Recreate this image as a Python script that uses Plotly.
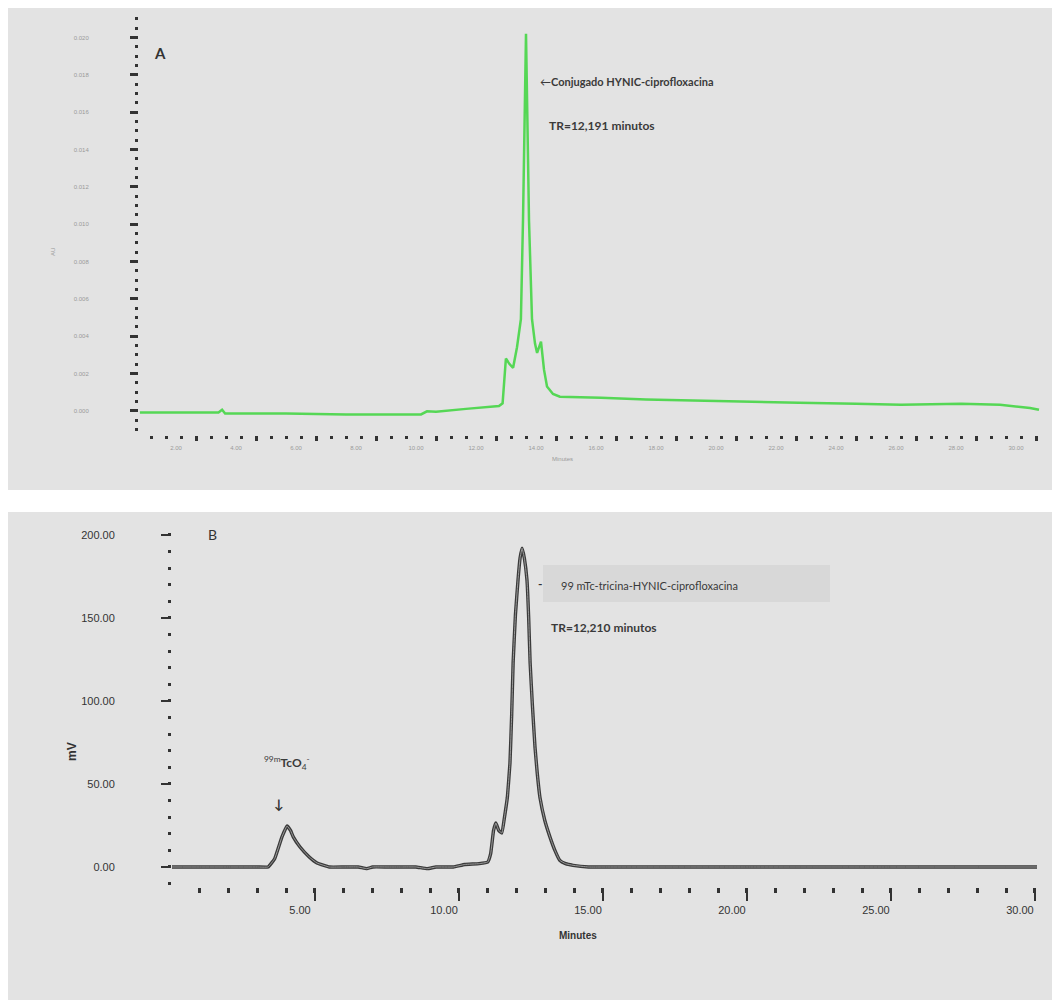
import plotly.graph_objects as go
from plotly.subplots import make_subplots

W, H = 1056, 1000

# ---------------- Data: panel A (UV, AU) ----------------
time_a = [0.13, 1.0, 2.0, 2.75, 2.87, 2.97, 4.0, 5.0, 7.0, 9.5, 9.7, 10.0, 11.0, 11.8,
          12.1, 12.22, 12.33, 12.45, 12.57, 12.7, 12.83, 12.9, 13.0, 13.1, 13.2, 13.3,
          13.37, 13.5, 13.6, 13.7, 13.9, 14.13, 15.5, 17.0, 18.8, 20.5, 22.1, 24.0,
          25.5, 27.5, 28.8, 29.8, 30.1]
au_a = [-0.0001, -0.0001, -0.0001, -0.0001, 0.00005, -0.00015, -0.00015, -0.00015,
        -0.0002, -0.0002, -0.00003, -0.00005, 0.0001, 0.0002,
        0.00025, 0.0004, 0.0028, 0.0025, 0.0023, 0.0034, 0.0049, 0.0102, 0.0202, 0.0102,
        0.0049, 0.0036, 0.0031, 0.0037, 0.0022, 0.0013, 0.0009, 0.00075, 0.0007, 0.0006,
        0.00053, 0.00048, 0.00043, 0.00038, 0.00032, 0.00037, 0.00032, 0.00015, 0.00005]

# ---------------- Data: panel B (radio, mV) ----------------
time_b = [0.0, 1.0, 2.0, 3.0, 3.37, 3.6, 3.85, 4.03, 4.15, 4.25, 4.48, 4.8, 5.07, 5.5,
          6.0, 6.5, 6.8, 7.0, 7.5, 8.0, 8.5, 8.9, 9.2, 9.8, 10.2, 10.7, 11.0, 11.1, 11.2,
          11.28, 11.38, 11.49, 11.58, 11.68, 11.77, 11.83, 11.88, 11.96, 12.05, 12.12,
          12.19, 12.27, 12.36, 12.42, 12.47, 12.55, 12.64, 12.72, 12.81, 12.98, 13.16,
          13.33, 13.5, 13.7, 13.96, 14.5, 15.0, 20.0, 25.0, 30.07]
mv_b = [0, 0, 0, 0, 0, 5, 18, 24.7, 22, 18, 12, 6, 2.4, 0,
        0, 0, -1, 0, 0, 0, 0, -1, 0, 0, 1.5, 2, 3, 8, 22,
        26.5, 22, 20.5, 30, 42, 62.6, 92, 123, 152, 173, 186,
        192, 186, 173, 150, 123, 97, 72, 56, 42, 28, 18,
        10, 4, 2, 1, 0, 0, 0, 0, 0]

# ---------------- Tick labels ----------------
a_xticks = [2, 4, 6, 8, 10, 12, 14, 16, 18, 20, 22, 24, 26, 28, 30]
a_xlabels = ["2.00", "4.00", "6.00", "8.00", "10.00", "12.00", "14.00", "16.00",
             "18.00", "20.00", "22.00", "24.00", "26.00", "28.00", "30.00"]
a_yticks = [0.000, 0.002, 0.004, 0.006, 0.008, 0.010, 0.012, 0.014, 0.016, 0.018, 0.020]
a_ylabels = ["0.000", "0.002", "0.004", "0.006", "0.008", "0.010", "0.012", "0.014",
             "0.016", "0.018", "0.020"]
b_xticks = [5, 10, 15, 20, 25, 30]
b_xlabels = ["5.00", "10.00", "15.00", "20.00", "25.00", "30.00"]
b_yticks = [0, 50, 100, 150, 200]
b_ylabels = ["0.00", "50.00", "100.00", "150.00", "200.00"]


def px(x):
    return x / W


def py(y):
    return 1 - y / H


fig = make_subplots(rows=2, cols=1)

fig.add_trace(go.Scatter(x=time_a, y=au_a, mode="lines",
                         line=dict(color="rgb(85,215,85)", width=2.5),
                         showlegend=False, hoverinfo="skip"), row=1, col=1)
fig.add_trace(go.Scatter(x=time_b, y=mv_b, mode="lines",
                         line=dict(color="#3a3a3a", width=3.4, shape="spline",
                                   smoothing=0.3),
                         showlegend=False, hoverinfo="skip"), row=2, col=1)
fig.add_trace(go.Scatter(x=time_b, y=mv_b, mode="lines",
                         line=dict(color="#9a9a9a", width=1.0, shape="spline",
                                   smoothing=0.3),
                         showlegend=False, hoverinfo="skip"), row=2, col=1)

GREY = "#e3e3e3"
TICKC = "#333333"

common = dict(showgrid=False, zeroline=False, showline=False)

fig.update_xaxes(**common, domain=[px(139), px(1048)], range=[0.1, 30.4],
                 tickmode="array", tickvals=a_xticks, ticktext=a_xlabels,
                 ticks="outside", ticklen=5, tickwidth=3, tickcolor=TICKC,
                 tickfont=dict(family="Liberation Sans", size=6, color="#9a9a9a"),
                 ticklabelshift=-20, ticklabelstandoff=2,
                 minor=dict(tickmode="linear", tick0=0, dtick=0.5, ticks="outside",
                            ticklen=3, tickwidth=3, tickcolor=TICKC),
                 row=1, col=1)
fig.update_yaxes(**common, domain=[py(435), py(15)], range=[-0.0013, 0.0212],
                 tickmode="array", tickvals=a_yticks, ticktext=a_ylabels,
                 ticks="outside", ticklen=8, tickwidth=3, tickcolor=TICKC,
                 tickfont=dict(family="Liberation Sans", size=6, color="#9a9a9a"),
                 ticklabelstandoff=40,
                 minor=dict(tickmode="linear", tick0=0, dtick=0.0005, ticks="outside",
                            ticklen=3, tickwidth=3, tickcolor=TICKC),
                 row=1, col=1)

fig.update_xaxes(**common, domain=[px(172), px(1046.5)], range=[0.035, 30.4],
                 tickmode="array", tickvals=b_xticks, ticktext=b_xlabels,
                 ticks="outside", ticklen=13, tickwidth=2, tickcolor=TICKC,
                 tickfont=dict(family="Liberation Sans", size=11, color="#333333"),
                 ticklabelshift=-15, ticklabelstandoff=0,
                 minor=dict(tickmode="linear", tick0=0, dtick=1, ticks="outside",
                            ticklen=5, tickwidth=3, tickcolor=TICKC),
                 row=2, col=1)
fig.update_yaxes(**common, domain=[py(887), py(520)], range=[-12.05, 209],
                 tickmode="array", tickvals=b_yticks, ticktext=b_ylabels,
                 ticks="outside", ticklen=10, tickwidth=2, tickcolor=TICKC,
                 tickfont=dict(family="Liberation Sans", size=11, color="#333333"),
                 ticklabelstandoff=44,
                 minor=dict(tickmode="linear", tick0=0, dtick=10, ticks="outside",
                            ticklen=3, tickwidth=3, tickcolor=TICKC),
                 row=2, col=1)

shapes = [
    dict(type="rect", xref="paper", yref="paper", x0=px(8), x1=px(1052), y0=py(490),
         y1=py(8), fillcolor=GREY, line=dict(width=0), layer="below"),
    dict(type="rect", xref="paper", yref="paper", x0=px(8), x1=px(1052), y0=py(1000),
         y1=py(512), fillcolor=GREY, line=dict(width=0), layer="below"),
    dict(type="rect", xref="paper", yref="paper", x0=px(543), x1=px(830), y0=py(602),
         y1=py(565), fillcolor="#d8d8d8", line=dict(width=0), layer="below"),
]

TXT = "Lato, DejaVu Sans, sans-serif"


def ann(x, y, text, size=12, color="#333333", xanchor="left", family=TXT, angle=0):
    return dict(x=px(x), y=py(y), xref="paper", yref="paper", text=text,
                showarrow=False, xanchor=xanchor, yanchor="middle", textangle=angle,
                font=dict(family=family, size=size, color=color))


annotations = [
    ann(160, 53, "<b>A</b>", size=15, color="#333333", xanchor="center"),
    ann(538, 82, "←<b>Conjugado HYNIC-ciprofloxacina</b>", size=11, color="#3a3a3a"),
    ann(547, 125, "<b>TR=12,191 minutos</b>", size=12, color="#3a3a3a"),
    ann(53, 252, "AU", size=6, color="#9a9a9a", xanchor="center",
        family="Liberation Sans", angle=-90),
    ann(562, 459, "Minutes", size=6, color="#9a9a9a", xanchor="center",
        family="Liberation Sans"),
    ann(212, 534, "B", size=14, color="#333333", xanchor="center"),
    ann(540, 583, "<b>-</b>", size=12, color="#333333", xanchor="center"),
    ann(559, 585, "99 mTc-tricina-HYNIC-ciprofloxacina", size=11, color="#3a3a3a"),
    ann(549, 627, "<b>TR=12,210 minutos</b>", size=12, color="#3a3a3a"),
    ann(287, 763, "<sup>99m</sup><b>TcO</b><sub>4</sub><sup>-</sup>", size=12,
        color="#3a3a3a", xanchor="center"),
    ann(279, 804, "<b>↓</b>", size=13, color="#333333", xanchor="center"),
    ann(578, 935, "<b>Minutes</b>", size=10, color="#333333", xanchor="center",
        family="Liberation Sans"),
    ann(72, 752, "<b>mV</b>", size=12, color="#333333", xanchor="center",
        family="Liberation Sans", angle=-90),
]

fig.update_layout(width=W, height=H, margin=dict(l=0, r=0, t=0, b=0),
                  paper_bgcolor="white", plot_bgcolor="rgba(0,0,0,0)",
                  shapes=shapes, annotations=annotations, showlegend=False)

fig.write_html("out.html")
